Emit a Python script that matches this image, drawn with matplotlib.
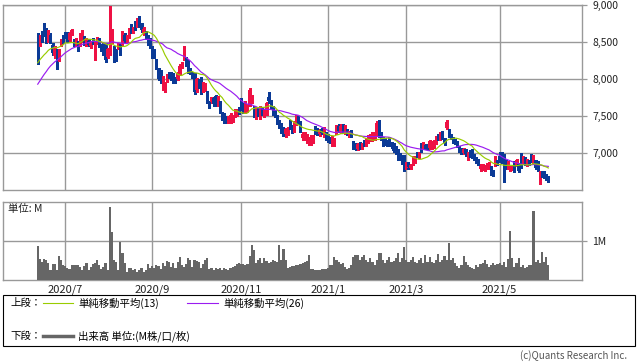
import numpy as np
import pandas as pd
import matplotlib
matplotlib.use("Agg")
import matplotlib.pyplot as plt
from matplotlib.lines import Line2D
from matplotlib.patches import Rectangle

plt.rcParams['font.family'] = ['Noto Sans CJK JP', 'DejaVu Sans']

# ─── データ（チャートから読み取り）───────────────────────────────────────────
# 表示期間前の終値（移動平均の計算用）
pre_closes = [7400, 7450, 7480, 7520, 7560, 7600, 7640, 7680, 7720, 7760, 7800, 7840, 7880,
              8050, 8120, 8180, 8150, 8200, 8250, 8230, 8280, 8300, 8260, 8320, 8290]

opens = [
    8390, 8460, 8600, 8720, 8660, 8520, 8600, 8460, 8310, 8390,
    8260, 8460, 8560, 8620, 8600, 8530, 8620, 8520, 8470, 8500,
    8470, 8520, 8540, 8470, 8520, 8450, 8540, 8360, 8510, 8550,
    8440, 8460, 8460, 8300, 8490, 8500, 8420, 8380, 8420, 8460,
    8460, 8600, 8520, 8580, 8720, 8640, 8760, 8720, 8830, 8740,
    8620, 8640, 8590, 8540, 8420, 8360, 8250, 8140, 8100, 7900,
    7880, 7980, 8080, 8060, 8060, 8010, 8000, 8080, 8170, 8280,
    8280, 8230, 8130, 8090, 8060, 7850, 7990, 8010, 7850, 7860,
    7820, 7690, 7690, 7740, 7770, 7660, 7690, 7550, 7530, 7490,
    7440, 7430, 7440, 7500, 7510, 7580, 7720, 7650, 7560, 7580,
    7650, 7700, 7610, 7480, 7600, 7480, 7600, 7510, 7540, 7760,
    7700, 7620, 7560, 7510, 7420, 7380, 7340, 7250, 7260, 7420,
    7360, 7310, 7400, 7490, 7420, 7200, 7190, 7160, 7150, 7130,
    7170, 7340, 7320, 7250, 7320, 7230, 7270, 7250, 7210, 7110,
    7120, 7280, 7370, 7290, 7370, 7280, 7320, 7240, 7300, 7150,
    7130, 7060, 7140, 7070, 7160, 7110, 7150, 7180, 7180, 7200,
    7250, 7420, 7260, 7200, 7190, 7170, 7200, 7140, 7130, 7080,
    7040, 6990, 6960, 6960, 6800, 6870, 6800, 6860, 6880, 7000,
    6950, 7120, 7070, 7110, 7110, 7070, 7080, 7090, 7140, 7240,
    7200, 7280, 7190, 7340, 7310, 7240, 7200, 7180, 7150, 7090,
    7060, 7000, 7050, 6930, 7020, 7020, 6980, 6940, 6910, 6780,
    6790, 6770, 6800, 6810, 6820, 6760, 6840, 6900, 6960, 6990,
    6950, 6900, 6810, 6780, 6780, 6880, 6840, 6850, 6980, 6880,
    6940, 6840, 6900, 6950, 6880, 6900, 6880, 6610, 6740, 6730,
    6700, 6680,
]
highs = [
    8620, 8600, 8650, 8760, 8690, 8660, 8620, 8480, 8440, 8400,
    8400, 8540, 8600, 8640, 8630, 8640, 8680, 8540, 8550, 8510,
    8620, 8660, 8580, 8560, 8540, 8520, 8560, 8520, 8570, 8560,
    8470, 8480, 8490, 8420, 8990, 8680, 8440, 8400, 8490, 8470,
    8650, 8620, 8600, 8690, 8740, 8700, 8780, 8820, 8850, 8760,
    8700, 8650, 8600, 8560, 8440, 8400, 8270, 8150, 8120, 8040,
    7960, 8070, 8100, 8090, 8080, 8030, 8100, 8200, 8230, 8440,
    8300, 8250, 8150, 8100, 8080, 8020, 8000, 8030, 7960, 7950,
    7840, 7700, 7760, 7750, 7790, 7770, 7700, 7560, 7540, 7500,
    7500, 7540, 7520, 7590, 7600, 7620, 7740, 7670, 7700, 7660,
    7880, 7790, 7630, 7620, 7620, 7630, 7620, 7600, 7690, 7820,
    7720, 7640, 7580, 7520, 7440, 7400, 7350, 7340, 7350, 7440,
    7380, 7430, 7520, 7500, 7430, 7280, 7290, 7250, 7210, 7240,
    7240, 7360, 7340, 7330, 7340, 7350, 7280, 7260, 7220, 7230,
    7200, 7380, 7390, 7390, 7390, 7380, 7330, 7300, 7310, 7160,
    7140, 7140, 7150, 7140, 7180, 7200, 7240, 7250, 7280, 7290,
    7430, 7440, 7280, 7210, 7200, 7180, 7210, 7150, 7140, 7100,
    7050, 7000, 6970, 6970, 6880, 6880, 6850, 6960, 6960, 7020,
    7020, 7140, 7150, 7120, 7120, 7180, 7160, 7170, 7230, 7250,
    7290, 7300, 7200, 7440, 7320, 7250, 7210, 7190, 7160, 7100,
    7070, 7070, 7060, 7010, 7040, 7060, 6990, 6950, 6920, 6850,
    6850, 6840, 6860, 6880, 6830, 6770, 6960, 6910, 7010, 7010,
    6980, 6910, 6890, 6830, 6830, 6890, 6920, 6860, 7000, 6960,
    6950, 6920, 6910, 6980, 6970, 6910, 6890, 6750, 6760, 6750,
    6710, 6690,
]
lows = [
    8200, 8440, 8500, 8580, 8490, 8500, 8480, 8330, 8280, 8130,
    8240, 8440, 8480, 8560, 8500, 8510, 8600, 8440, 8450, 8380,
    8450, 8500, 8460, 8450, 8440, 8420, 8470, 8260, 8470, 8430,
    8380, 8330, 8230, 8280, 8320, 8480, 8230, 8240, 8400, 8320,
    8440, 8500, 8500, 8560, 8620, 8620, 8660, 8700, 8700, 8640,
    8600, 8540, 8460, 8420, 8290, 8280, 8140, 7980, 7950, 7850,
    7830, 7960, 8010, 7990, 7950, 7940, 7980, 8060, 8150, 8260,
    8170, 8080, 8070, 8010, 7800, 7830, 7880, 7800, 7830, 7840,
    7670, 7610, 7670, 7640, 7640, 7640, 7540, 7450, 7410, 7410,
    7400, 7410, 7420, 7480, 7500, 7530, 7580, 7540, 7540, 7560,
    7630, 7680, 7490, 7460, 7500, 7460, 7520, 7490, 7520, 7680,
    7600, 7520, 7490, 7390, 7340, 7270, 7230, 7220, 7240, 7330,
    7270, 7290, 7380, 7390, 7290, 7180, 7170, 7140, 7110, 7110,
    7140, 7260, 7240, 7230, 7250, 7210, 7170, 7150, 7140, 7090,
    7100, 7260, 7280, 7270, 7270, 7260, 7240, 7220, 7220, 7050,
    7040, 7040, 7060, 7050, 7100, 7090, 7130, 7160, 7160, 7180,
    7230, 7220, 7180, 7100, 7110, 7090, 7090, 7070, 7010, 6980,
    6910, 6900, 6850, 6760, 6780, 6790, 6780, 6840, 6860, 6940,
    6930, 7020, 7050, 7050, 7040, 7050, 7060, 7070, 7120, 7180,
    7180, 7190, 7110, 7320, 7220, 7190, 7130, 7120, 7080, 7020,
    6990, 6980, 6960, 6910, 6950, 6930, 6900, 6860, 6840, 6760,
    6770, 6750, 6780, 6790, 6700, 6690, 6820, 6840, 6880, 6870,
    6610, 6790, 6790, 6760, 6770, 6740, 6820, 6740, 6800, 6860,
    6840, 6820, 6840, 6880, 6860, 6780, 6750, 6580, 6680, 6660,
    6630, 6610,
]
closes = [
    8220, 8580, 8560, 8600, 8510, 8640, 8500, 8350, 8420, 8230,
    8380, 8520, 8500, 8580, 8520, 8620, 8660, 8460, 8530, 8400,
    8600, 8630, 8480, 8540, 8460, 8500, 8490, 8500, 8550, 8450,
    8400, 8350, 8250, 8400, 8700, 8620, 8260, 8300, 8470, 8360,
    8630, 8520, 8580, 8660, 8650, 8690, 8690, 8800, 8720, 8660,
    8680, 8560, 8480, 8440, 8310, 8330, 8160, 8000, 7980, 8020,
    7940, 8050, 8030, 8010, 7970, 7960, 8080, 8180, 8220, 8410,
    8190, 8100, 8090, 8030, 7820, 8000, 7900, 7820, 7940, 7930,
    7690, 7630, 7750, 7660, 7660, 7750, 7560, 7470, 7430, 7440,
    7480, 7520, 7500, 7570, 7580, 7560, 7600, 7560, 7680, 7640,
    7850, 7770, 7510, 7600, 7520, 7610, 7540, 7580, 7670, 7700,
    7620, 7540, 7510, 7410, 7360, 7290, 7250, 7320, 7330, 7350,
    7290, 7410, 7500, 7410, 7310, 7260, 7270, 7230, 7190, 7220,
    7220, 7280, 7260, 7310, 7270, 7330, 7190, 7170, 7160, 7210,
    7180, 7360, 7300, 7370, 7290, 7360, 7260, 7290, 7240, 7070,
    7060, 7120, 7080, 7120, 7120, 7180, 7220, 7230, 7260, 7270,
    7410, 7240, 7200, 7120, 7130, 7110, 7110, 7090, 7030, 7000,
    6930, 6920, 6870, 6780, 6860, 6810, 6840, 6940, 6940, 6960,
    7010, 7040, 7130, 7070, 7060, 7160, 7140, 7150, 7210, 7200,
    7270, 7210, 7130, 7420, 7240, 7200, 7150, 7140, 7100, 7040,
    7010, 7050, 6980, 6990, 6970, 6950, 6920, 6880, 6860, 6830,
    6830, 6820, 6840, 6860, 6720, 6710, 6940, 6860, 6900, 6890,
    6800, 6810, 6870, 6810, 6810, 6760, 6900, 6760, 6820, 6940,
    6860, 6900, 6860, 6900, 6950, 6800, 6770, 6730, 6700, 6680,
    6650, 6630,
]
# 出来高（単位: M株）
volumes = [
    0.87, 0.55, 0.47, 0.54, 0.51, 0.44, 0.26, 0.41, 0.41, 0.26,
    0.62, 0.51, 0.38, 0.36, 0.30, 0.27, 0.38, 0.38, 0.38, 0.38,
    0.34, 0.26, 0.36, 0.44, 0.26, 0.34, 0.41, 0.44, 0.51, 0.38,
    0.27, 0.34, 0.44, 0.26, 1.88, 1.22, 0.51, 0.47, 0.26, 0.97,
    0.70, 0.44, 0.21, 0.30, 0.30, 0.26, 0.27, 0.21, 0.26, 0.30,
    0.21, 0.26, 0.41, 0.30, 0.36, 0.32, 0.38, 0.36, 0.27, 0.44,
    0.36, 0.50, 0.47, 0.34, 0.44, 0.32, 0.47, 0.60, 0.38, 0.34,
    0.41, 0.56, 0.51, 0.34, 0.51, 0.50, 0.47, 0.32, 0.41, 0.51,
    0.56, 0.27, 0.32, 0.26, 0.30, 0.27, 0.32, 0.26, 0.30, 0.27,
    0.26, 0.32, 0.34, 0.36, 0.41, 0.44, 0.41, 0.41, 0.38, 0.41,
    0.62, 0.90, 0.77, 0.44, 0.51, 0.56, 0.44, 0.56, 0.50, 0.43,
    0.47, 0.51, 0.50, 0.47, 0.90, 0.51, 0.79, 0.51, 0.32, 0.34,
    0.36, 0.36, 0.38, 0.38, 0.41, 0.43, 0.47, 0.50, 0.64, 0.27,
    0.27, 0.26, 0.26, 0.26, 0.27, 0.27, 0.27, 0.30, 0.38, 0.38,
    0.60, 0.51, 0.47, 0.41, 0.43, 0.34, 0.27, 0.30, 0.38, 0.60,
    0.64, 0.64, 0.51, 0.60, 0.64, 0.51, 0.47, 0.56, 0.47, 0.38,
    0.51, 0.70, 0.68, 0.51, 0.43, 0.51, 0.60, 0.47, 0.50, 0.56,
    0.68, 0.47, 0.56, 0.85, 0.51, 0.47, 0.51, 0.60, 0.47, 0.43,
    0.51, 0.56, 0.43, 0.64, 0.47, 0.60, 0.47, 0.43, 0.51, 0.67,
    0.47, 0.51, 0.62, 0.51, 0.96, 0.51, 0.56, 0.43, 0.36, 0.30,
    0.38, 0.62, 0.47, 0.38, 0.34, 0.32, 0.27, 0.38, 0.34, 0.41,
    0.44, 0.51, 0.41, 0.34, 0.38, 0.43, 0.38, 0.41, 0.44, 0.38,
    0.47, 0.34, 0.53, 1.26, 0.56, 0.34, 0.44, 0.56, 0.34, 0.38,
    0.32, 0.34, 0.38, 0.38, 1.78, 0.47, 0.51, 0.44, 0.73, 0.47,
    0.60, 0.38,
]
# 月初の営業日インデックス
month_idx = [13, 54, 96, 137, 174, 218]
month_labels = ["2020/7", "2020/9", "2020/11", "2021/1", "2021/3", "2021/5"]
price_ticks = [7000, 7500, 8000, 8500, 9000]

# ─── スタイル ─────────────────────────────────────────────────────────────────
RED = "#ee1144"
BLUE = "#0b3a96"
GREEN = "#99cc00"
PURPLE = "#9a1cf0"
GRAY_BAR = "#666666"
GRID = "#999999"

W, H = 638, 362
def fx(px):
    return px / W
def fy(py):
    return 1 - py / H

fig = plt.figure(figsize=(W / 100, H / 100), dpi=100)
ax = fig.add_axes([fx(3), fy(190), fx(582) - fx(3), fy(5) - fy(190)])
axv = fig.add_axes([fx(3), fy(280), fx(582) - fx(3), fy(202) - fy(280)])

x = np.arange(len(closes))
o = np.array(opens)
c = np.array(closes)
cols = np.where(c >= o, RED, BLUE)

# ── 上段：ローソク足 + 移動平均 ──
ax.vlines(x, lows, highs, colors=cols, linewidth=0.9, zorder=3, antialiased=False)
ax.bar(x, np.maximum(np.abs(c - o), 10), bottom=np.minimum(o, c), width=1.15,
       color=cols, linewidth=0, zorder=3, antialiased=False)

all_c = pd.Series(pre_closes + closes, dtype=float)
n_pre = len(pre_closes)
ma13 = all_c.rolling(13).mean().values[n_pre:]
ma26 = all_c.rolling(26).mean().values[n_pre:]
ax.plot(x, ma26, color=PURPLE, lw=0.85, zorder=4)
ax.plot(x, ma13, color=GREEN, lw=0.85, zorder=4)

xlim = (-16.4, 256.9)
for a in (ax, axv):
    a.set_xlim(*xlim)
    a.set_xticks(month_idx)
    a.set_axisbelow(True)
    a.grid(True, color=GRID, lw=1.0)
    for s in a.spines.values():
        s.set_color(GRID)
        s.set_linewidth(1.0)
    a.yaxis.tick_right()
    a.tick_params(axis='y', length=3.6, width=0.9, color=GRID, pad=4,
                  labelsize=7.5, labelcolor="#222222")

ax.set_ylim(6500, 9000)
ax.set_yticks(price_ticks)
ax.set_yticklabels([f"{v:,}" for v in price_ticks])
ax.tick_params(axis='x', length=0, labelbottom=False)

# ── 下段：出来高 ──
axv.bar(x, volumes, width=1.0, color=GRAY_BAR, linewidth=0, zorder=3,
        antialiased=False)
axv.set_ylim(0, 2)
axv.set_yticks([1])
axv.set_yticklabels(["1M"])
axv.set_xticklabels(month_labels)
axv.tick_params(axis='x', length=0, pad=3, labelsize=8, labelcolor="#222222")
fig.text(fx(8), fy(209), "単位: M", fontsize=7.5, va='center', color="#222222")

# ── 凡例ボックス ──
fig.add_artist(Rectangle((fx(3), fy(346)), fx(635) - fx(3), fy(295) - fy(346),
                         transform=fig.transFigure, fill=False,
                         edgecolor="black", lw=0.8))
fs = 7.5
fig.text(fx(10), fy(303), "上段：", fontsize=fs, va='center')
fig.add_artist(Line2D([fx(43), fx(73)], [fy(303)] * 2, color=GREEN, lw=0.8,
                      transform=fig.transFigure))
fig.text(fx(78), fy(303), "単純移動平均(13)", fontsize=fs, va='center')
fig.add_artist(Line2D([fx(187), fx(218)], [fy(303)] * 2, color=PURPLE, lw=0.8,
                      transform=fig.transFigure))
fig.text(fx(223), fy(303), "単純移動平均(26)", fontsize=fs, va='center')
fig.text(fx(10), fy(336), "下段：", fontsize=fs, va='center')
fig.add_artist(Line2D([fx(43), fx(73)], [fy(336)] * 2, color=GRAY_BAR, lw=2.5,
                      transform=fig.transFigure))
fig.text(fx(78), fy(336), "出来高 単位:(M株/口/枚)", fontsize=fs, va='center')

fig.text(fx(627), fy(356), "(c)Quants Research Inc.", fontsize=7, ha='right',
         va='center', color="#555555")

fig.savefig("out.png", dpi=100)
